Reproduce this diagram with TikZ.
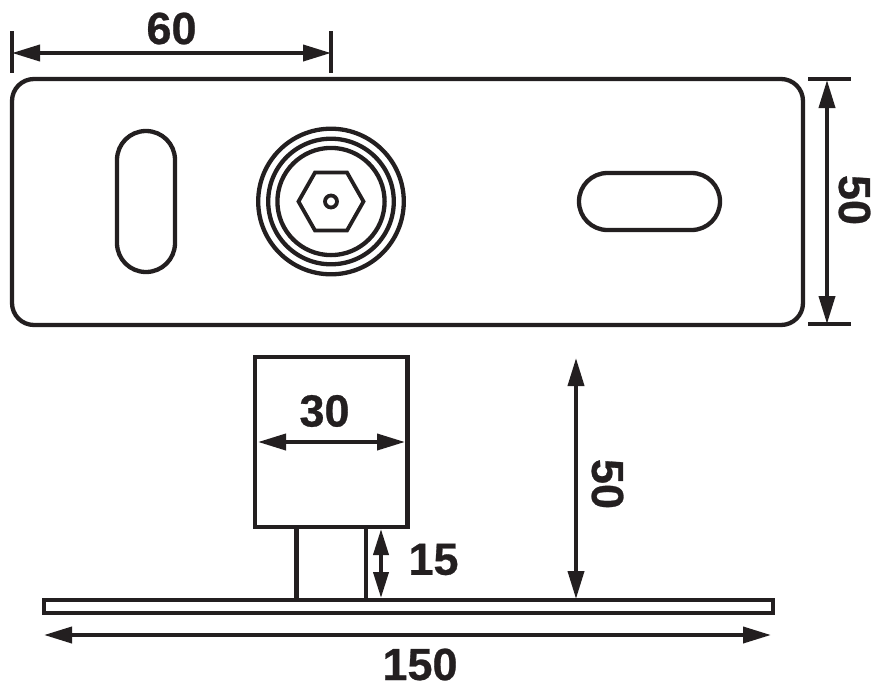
\documentclass[tikz,border=0pt]{standalone}
\usepackage{fontspec}
\setmainfont{Liberation Sans}[BoldFeatures={FakeBold=0.6}]
\usetikzlibrary{arrows.meta}
\definecolor{ink}{HTML}{231F20}
\tikzset{
  part/.style={draw=ink,line width=4.3pt,line join=round},
  thin part/.style={draw=ink,line width=3.8pt,line join=miter},
  tick/.style={draw=ink,line width=4.3pt},
  dim/.style={draw=ink,line width=3.8pt,{Triangle[length=28pt,width=16pt,color=ink]}-{Triangle[length=28pt,width=16pt,color=ink]}},
  lab/.style={text=ink,font=\fontsize{45}{45}\bfseries\selectfont,inner sep=0pt,anchor=center}
}
\begin{document}
\begin{tikzpicture}[x=1pt,y=-1pt]
\useasboundingbox (0,0) rectangle (878,689);
% top plate
\draw[part,rounded corners=22pt] (12,79) rectangle (803,325);
\draw[part,rounded corners=28.9pt] (117,131) rectangle (175,272);
\draw[part,rounded corners=28.4pt] (579,173) rectangle (720,230);
% bolt
\draw[part] (331,201.5) circle[radius=72.8];
\draw[part] (331,201.5) circle[radius=62.8];
\draw[part] (331,201.5) circle[radius=53.6];
\draw[thin part] (298.5,201.5) -- (315,172.5) -- (347,172.5) -- (363.5,201.5) -- (347,230.5) -- (315,230.5) -- cycle;
\draw[thin part] (331,201.5) circle[radius=6];
% side view
\draw[part,line join=miter] (255,357) rectangle (407.5,527);
\draw[part] (296.5,527) -- (296.5,600);
\draw[part] (366,527) -- (366,600);
\draw[part,line join=miter] (44,600) rectangle (773,613);
% dimension ends
\coordinate (a1) at (12,53); \coordinate (a2) at (331,53);
\coordinate (t1a) at (12,31); \coordinate (t1b) at (12,73);
\coordinate (t2a) at (331,31); \coordinate (t2b) at (331,73);
\coordinate (b1) at (827,80); \coordinate (b2) at (827,324);
\coordinate (t3a) at (808,79); \coordinate (t3b) at (851,79);
\coordinate (t4a) at (808,324); \coordinate (t4b) at (851,324);
\coordinate (c1) at (258,442); \coordinate (c2) at (405,442);
\coordinate (d1) at (576,358); \coordinate (d2) at (576,599);
\coordinate (e1) at (381,529); \coordinate (e2) at (381,598);
\coordinate (f1) at (44,635); \coordinate (f2) at (771,635);
\draw[tick] (t1a) -- (t1b);
\draw[tick] (t2a) -- (t2b);
\draw[tick] (t3a) -- (t3b);
\draw[tick] (t4a) -- (t4b);
\draw[dim] (a1) -- (a2);
\draw[dim] (b1) -- (b2);
\draw[dim] (c1) -- (c2);
\draw[dim] (d1) -- (d2);
\draw[dim,{Triangle[length=26pt,width=15pt,color=ink]}-{Triangle[length=26pt,width=15pt,color=ink]}] (e1) -- (e2);
\draw[dim] (f1) -- (f2);
% labels
\node[lab] (l60) at (171.5,28.5) {60};
\node[lab,rotate=-90] (l50a) at (854.5,200) {50};
\node[lab] (l30) at (324.5,411) {30};
\node[lab,rotate=-90] (l50b) at (607.5,484) {50};
\node[lab] (l15) at (433.5,559.5) {15};
\node[lab] (l150) at (420,664.5) {150};
\end{tikzpicture}
\end{document}
